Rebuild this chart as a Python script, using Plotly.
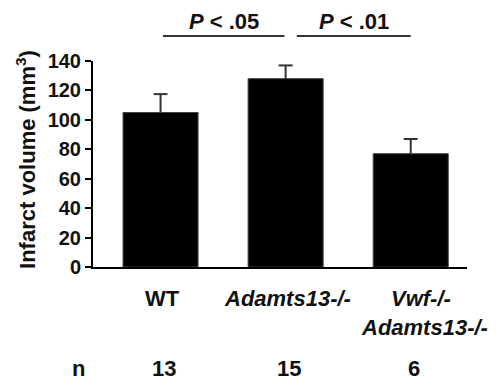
import plotly.graph_objects as go

# ---- data ----
categories = ["WT", "Adamts13-/-", "Vwf-/-\nAdamts13-/-"]
label_line1 = ["WT", "Adamts13-/-", "Vwf-/-"]
label_line2 = ["", "", "Adamts13-/-"]
label_italic = [False, True, True]
infarct_volume = [105, 128, 77]
sem = [12.5, 9, 10]
n_values = [13, 15, 6]
y_ticks = [0, 20, 40, 60, 80, 100, 120, 140]
comparisons = [(0, 1, "P < .05"), (1, 2, "P < .01")]

FONT = "Liberation Sans, Arial, sans-serif"
TXT = dict(family=FONT, size=22, color="#111")
x_idx = list(range(len(categories)))

fig = go.Figure()
fig.add_trace(go.Bar(
    x=x_idx, y=infarct_volume, width=0.6,
    marker=dict(color="#000000", line=dict(width=1, color="#444")),
    error_y=dict(type="data", symmetric=False, array=sem,
                 arrayminus=[0] * len(sem), color="#333333",
                 thickness=2, width=0),
    showlegend=False, hoverinfo="skip",
))
# error-bar caps
fig.add_trace(go.Scatter(
    x=x_idx, y=[v + e for v, e in zip(infarct_volume, sem)], mode="markers",
    marker=dict(symbol="line-ew", size=10, line=dict(width=2, color="#333333")),
    showlegend=False, hoverinfo="skip", cliponaxis=False,
))

def fmt(t, it):
    return f"<b><i>{t}</i></b>" if it else f"<b>{t}</b>"

ann = []
# category labels
for i, (l1, l2, it) in enumerate(zip(label_line1, label_line2, label_italic)):
    xs = 10 if l2 else 2
    ann.append(dict(x=i, y=0, xref="x", yref="paper", yshift=-31, xshift=xs,
                    text=fmt(l1, it), showarrow=False, yanchor="middle", font=TXT))
    if l2:
        ann.append(dict(x=i, y=0, xref="x", yref="paper", yshift=-60, xshift=14,
                        text=fmt(l2, it), showarrow=False, yanchor="middle", font=TXT))
# n row
ann.append(dict(x=-0.0615, y=0, xref="paper", yref="paper", yshift=-101,
                text="<b>n</b>", showarrow=False, yanchor="middle", font=TXT))
for i, n in enumerate(n_values):
    ann.append(dict(x=i, y=0, xref="x", yref="paper", yshift=-101, xshift=3,
                    text=f"<b>{n}</b>", showarrow=False, yanchor="middle", font=TXT))
# y title
ann.append(dict(x=-0.179, y=0.52, xref="paper", yref="paper", textangle=-90,
                text="<b>Infarct volume (mm<sup>3</sup>)</b>", showarrow=False,
                xanchor="center", yanchor="middle", font=TXT))

shapes = []
line_pad = [(0.02, -0.01), (0.09, 0.0)]
for (a, b, txt), (pa, pb) in zip(comparisons, line_pad):
    x0, x1 = a + pa, b + pb
    shapes.append(dict(type="line", xref="x", yref="paper", x0=x0, x1=x1,
                       y0=1.121, y1=1.121, line=dict(color="#333", width=2)))
    ann.append(dict(x=(x0 + x1) / 2, y=1.19, xref="x", yref="paper",
                    text="<b><i>P</i> &lt; " + txt.split("<")[1].strip() + "</b>",
                    showarrow=False, yanchor="middle", font=TXT))

fig.update_layout(
    width=501, height=389,
    margin=dict(l=93, r=34, t=61, b=121.5),
    paper_bgcolor="white", plot_bgcolor="white",
    annotations=ann, shapes=shapes,
    xaxis=dict(range=[-0.54, 2.45], showticklabels=False, ticks="",
               showline=True, linecolor="#000", linewidth=2,
               showgrid=False, zeroline=False, fixedrange=True),
    yaxis=dict(range=[0, 140], tickvals=y_ticks,
               ticktext=[f"<b>{v}</b>" for v in y_ticks],
               ticks="outside", ticklen=6, tickwidth=2, tickcolor="#000",
               showline=True, linecolor="#000", linewidth=2,
               showgrid=False, zeroline=False, fixedrange=True,
               tickfont=dict(family=FONT, size=20, color="#111")),
)

fig.write_html("out.html", config={"displayModeBar": False},
               post_script="document.body.style.margin='0';")
